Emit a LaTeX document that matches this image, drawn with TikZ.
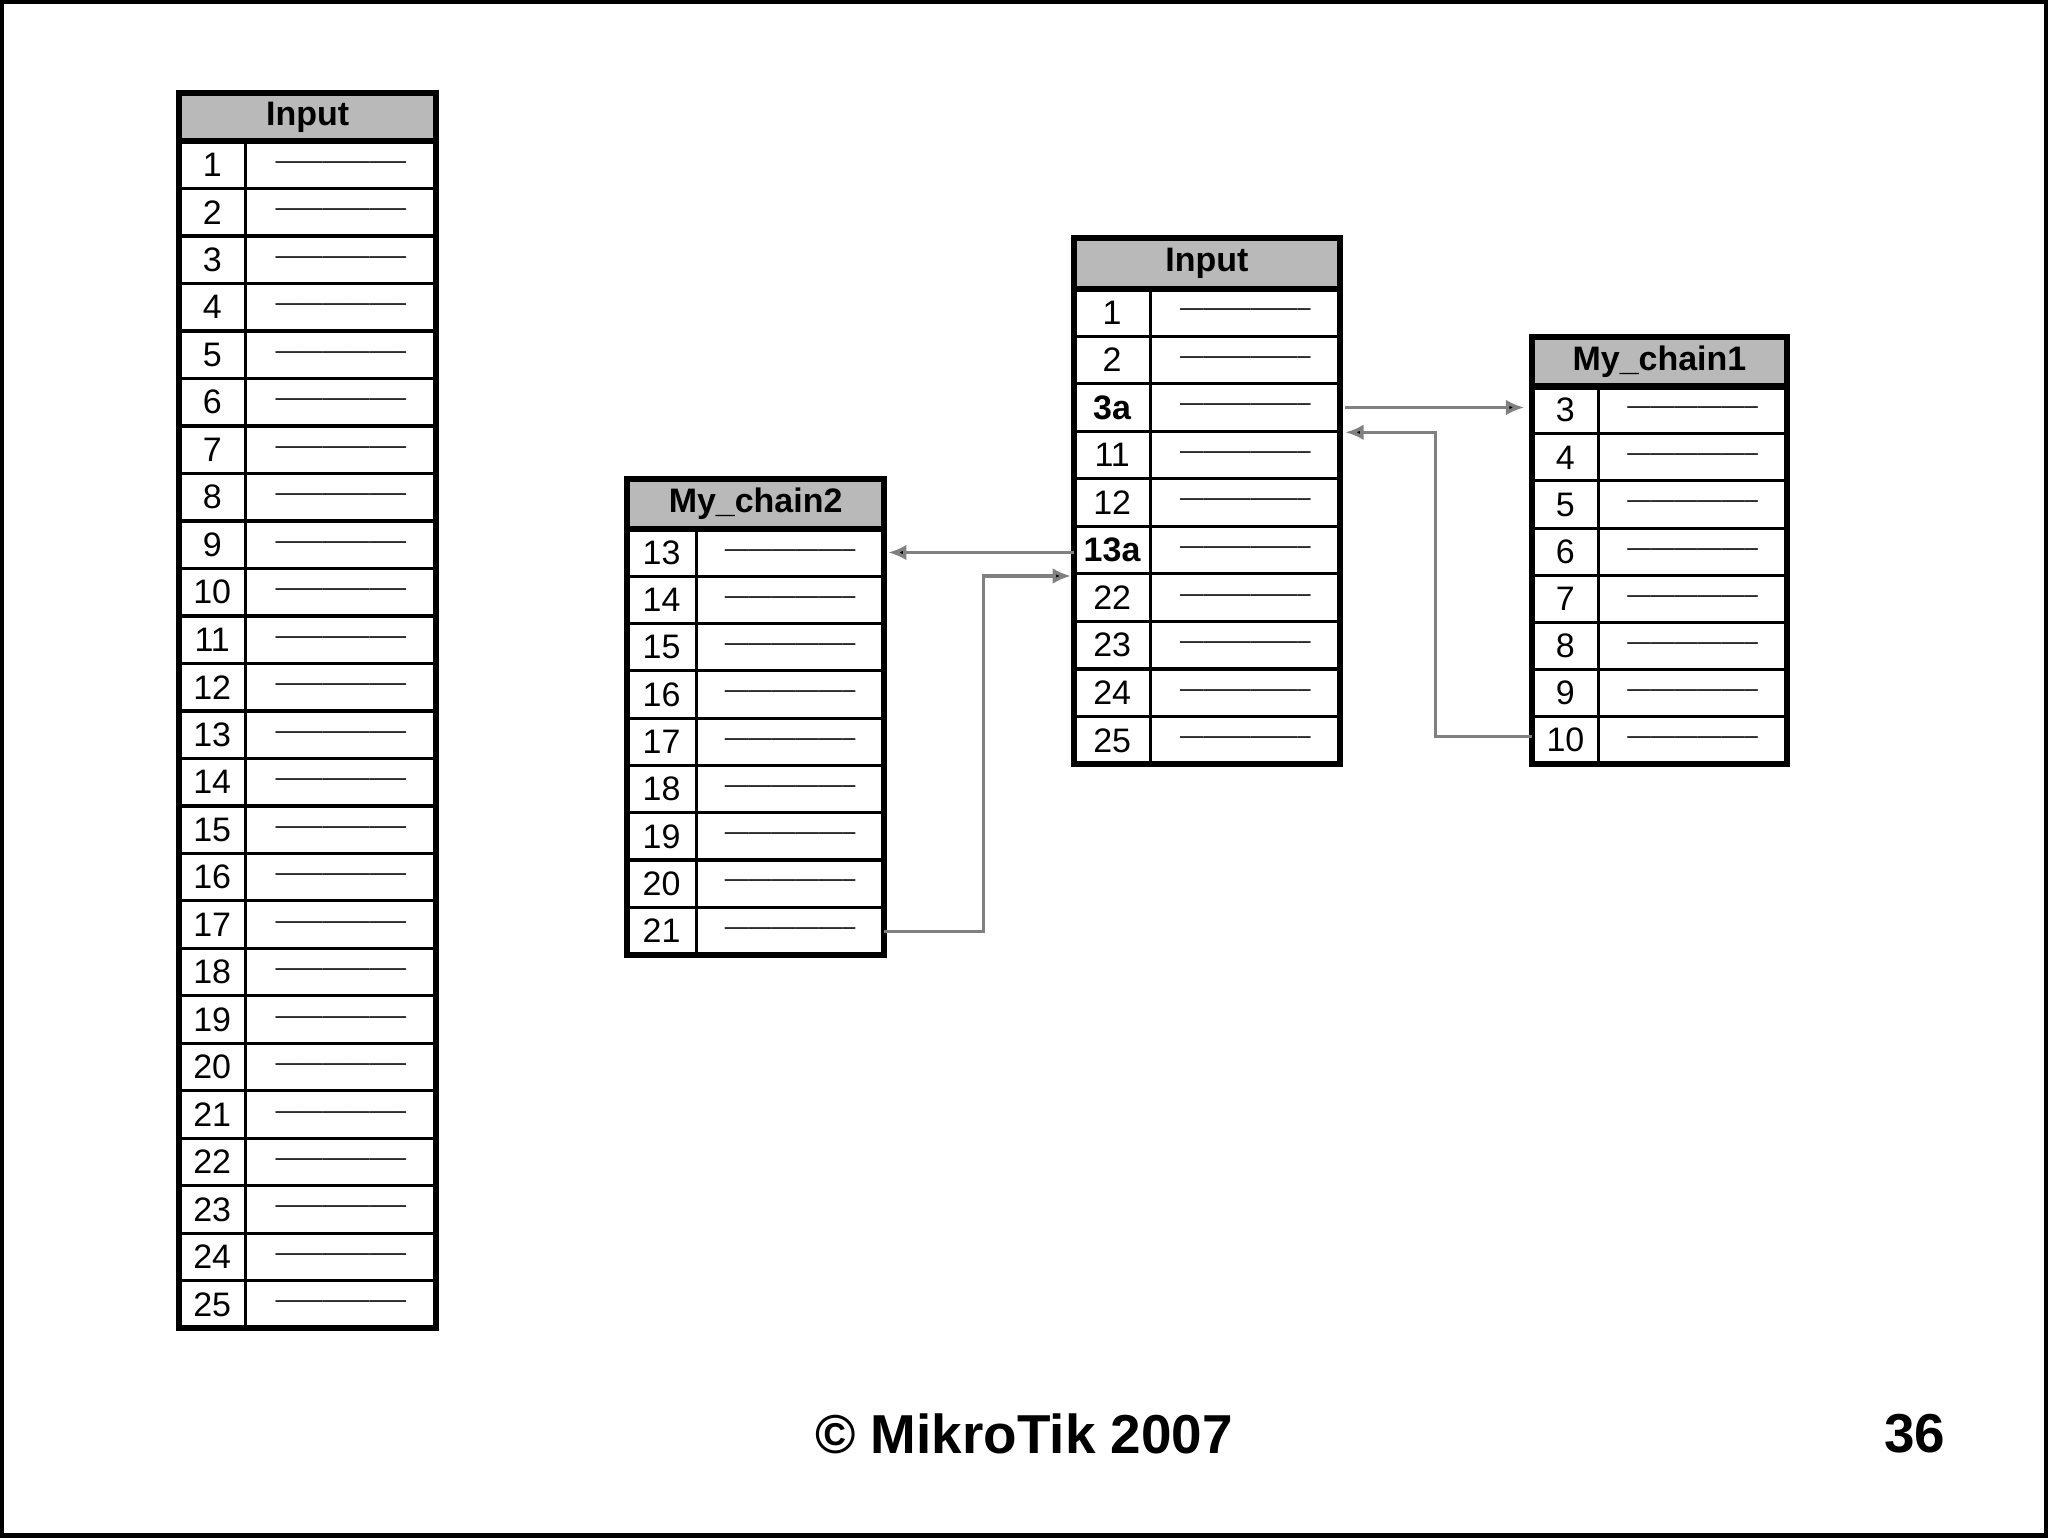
\documentclass[tikz,border=0pt]{standalone}
\usepackage{fontspec}
\setmainfont{Liberation Sans}
\usetikzlibrary{arrows.meta}
\newcommand\mktable[9]{% name,title,x1,x2,xdiv,ytop,yhead,rowh,labels
  \fill[gray!55] (#3,#6) rectangle (#4,#7);
  \node[hdr] (#1-h) at ({(#3+#4)/2},{(#6+#7)/2}) {#2};
  \foreach \lab [count=\i] in {#9} {
    \pgfmathsetmacro\ya{#7+(\i-1)*#8}
    \pgfmathsetmacro\yb{#7+\i*#8}
    \draw[line width=1.2pt] (#3,\yb) -- (#4,\yb);
    \node[num] (#1-\i) at ({(#3+#5)/2},{(\ya+\yb)/2}) {\lab};
    \node[dsh] (#1-d\i) at ({(#5+#4)/2},{(\ya+\yb)/2}) {-----------------};
  }
}
\begin{document}
\begin{tikzpicture}[x=0.5pt,y=-0.5pt,
  hdr/.style={font=\fontsize{13}{13}\selectfont\bfseries},
  num/.style={font=\fontsize{13}{13}\selectfont},
  dsh/.style={font=\fontsize{9}{9}\selectfont},
  conn/.style={draw=gray,line width=1.3pt},
  tip/.style={-{Latex[length=7pt,width=6pt,fill=black]}}]
\useasboundingbox (0,0) rectangle (1568,1177);
\draw[line width=2pt] (1,1) rectangle (1567,1176);
% left table
\mktable{inL}{Input}{137}{334}{188}{71}{108}{36.36}{1,2,3,4,5,6,7,8,9,10,11,12,13,14,15,16,17,18,19,20,21,22,23,24,25}
\draw[line width=1.2pt] (188,108) -- (188,1017);
\draw[line width=2.4pt] (137,71) rectangle (334,1017);
\draw[line width=2.4pt] (137,108) -- (334,108);
% middle
\mktable{inM}{Input}{822}{1026}{881}{182}{221}{36.4}{1,2,\textbf{3a},11,12,\textbf{13a},22,23,24,25}
\draw[line width=1.2pt] (881,221) -- (881,585);
\draw[line width=2.4pt] (822,182) rectangle (1026,585);
\draw[line width=2.4pt] (822,221) -- (1026,221);
% chain1
\mktable{ch1}{My\_chain1}{1173}{1368}{1224}{258}{296}{36.1}{3,4,5,6,7,8,9,10}
\draw[line width=1.2pt] (1224,296) -- (1224,585);
\draw[line width=2.4pt] (1173,258) rectangle (1368,585);
\draw[line width=2.4pt] (1173,296) -- (1368,296);
% chain2
\mktable{ch2}{My\_chain2}{480}{677}{533}{367}{405}{36.2}{13,14,15,16,17,18,19,20,21}
\draw[line width=1.2pt] (533,405) -- (533,731);
\draw[line width=2.4pt] (480,367) rectangle (677,731);
\draw[line width=2.4pt] (480,405) -- (677,405);
% connectors
\coordinate (a1) at (1030,312); \coordinate (a2) at (1167,312);
\draw[conn,tip] (a1) -- (a2);
\coordinate (b1) at (1173,564); \coordinate (b2) at (1030,331);
\draw[conn,tip] (b1) -- (1099,564) -- (1099,331) -- (b2);
\coordinate (c1) at (822,423); \coordinate (c2) at (680,423);
\draw[conn,tip] (c1) -- (c2);
\coordinate (d1) at (677,713); \coordinate (d2) at (820,441);
\draw[conn,tip] (d1) -- (753,713) -- (753,441) -- (d2);
% footer
\node[font=\fontsize{21}{21}\selectfont\bfseries] (foot) at (784,1098) {© MikroTik 2007};
\node[font=\fontsize{21}{21}\selectfont\bfseries] (pg) at (1466,1098) {36};
\end{tikzpicture}
\end{document}
